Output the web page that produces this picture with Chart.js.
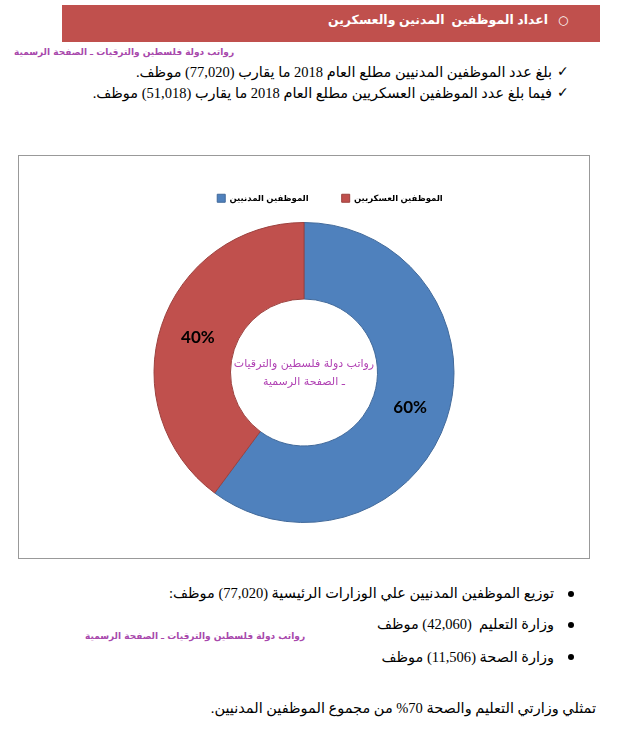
<!DOCTYPE html>
<html lang="ar">
<head>
<meta charset="utf-8">
<script src="https://cdn.jsdelivr.net/npm/chart.js@4.4.0/dist/chart.umd.min.js"></script>
<style>
  body { margin: 0; width: 628px; height: 729px; background: #fff; position: relative; overflow: hidden;
         font-family: "Liberation Serif", "DejaVu Sans", serif; color: #000; }
  .abs { position: absolute; white-space: nowrap; }
  .rtl { direction: rtl; }
  #header { left: 62px; top: 5px; width: 538px; height: 37px; background: #C0504D; }
  #headerText { right: 80px; top: 10px; font: bold 12.5px "Liberation Sans", "DejaVu Sans", sans-serif; color: #fff; line-height: 20px; }
  #headerDot { left: 558px; top: 10px; font: 12px "DejaVu Sans", sans-serif; color: #fff; line-height: 20px; }
  .line { font-size: 14.5px; line-height: 20px; }
  .mark { font-size: 14px; line-height: 20px; }
  .dot { width: 6px; height: 6px; border-radius: 50%; background: #000; }
  .wm { font: bold 9px "DejaVu Sans", sans-serif; color: #A848AC; line-height: 14px; }
  #box { left: 18px; top: 155px; width: 570px; height: 402px; border: 1px solid #999; }
</style>
</head>
<body>
<div id="header" class="abs"></div>
<div id="headerDot" class="abs">○</div>
<div id="headerText" class="abs rtl">اعداد الموظفين&nbsp; المدنين والعسكرين</div>

<div class="abs wm rtl" style="left:14px; top:45px;">رواتب دولة فلسطين والترقيات ـ الصفحة الرسمية</div>

<div class="abs mark" style="left:557px; top:62px;">✓</div>
<div class="abs line rtl" style="right:76px; top:62px;">بلغ عدد الموظفين المدنيين مطلع العام 2018 ما يقارب (77,020) موظف.</div>
<div class="abs mark" style="left:557px; top:83px;">✓</div>
<div class="abs line rtl" style="right:76px; top:83px;">فيما بلغ عدد الموظفين العسكريين مطلع العام 2018 ما يقارب (51,018) موظف.</div>

<div id="box" class="abs">
  <canvas id="employeesChart" width="570" height="402"></canvas>
</div>

<div class="abs dot" style="left:568px; top:591px;"></div>
<div class="abs line rtl" style="right:74px; top:583px;">توزيع الموظفين المدنيين علي الوزارات الرئيسية (77,020) موظف:</div>
<div class="abs dot" style="left:568px; top:622px;"></div>
<div class="abs line rtl" style="right:74px; top:614px;">وزارة التعليم&nbsp; (42,060) موظف</div>
<div class="abs wm rtl" style="left:85px; top:629px;">رواتب دولة فلسطين والترقيات ـ الصفحة الرسمية</div>
<div class="abs dot" style="left:568px; top:654px;"></div>
<div class="abs line rtl" style="right:74px; top:647px;">وزارة الصحة (11,506) موظف</div>
<div class="abs line rtl" style="right:32px; top:698px;">تمثلي وزارتي التعليم والصحة 70% من مجموع الموظفين المدنيين.</div>

<script>
// employees at the start of 2018
const categories = ['الموظفين المدنيين', 'الموظفين العسكريين'];
const employees = [77020, 51018];
const centerLines = ['رواتب دولة فلسطين والترقيات', 'ـ الصفحة الرسمية'];

const total = employees.reduce((a, b) => a + b, 0);

// taller legend block so the ring starts lower, legend nudged right like the original
const legendSpacer = {
    id: 'legendSpacer',
    beforeInit(chart) {
        const legend = chart.legend;
        const fit = legend.fit;
        legend.fit = function () {
            fit.call(this);
            this.height = 61;
        };
        const draw = legend.draw;
        legend.draw = function () {
            const ctx = this.ctx;
            ctx.save();
            ctx.translate(26, 0);
            draw.call(this);
            ctx.restore();
        };
    }
};

// percentages on the slices + watermark in the hole
const sliceLabels = {
    id: 'sliceLabels',
    afterDatasetsDraw(chart) {
        const ctx = chart.ctx;
        const meta = chart.getDatasetMeta(0);
        ctx.save();
        ctx.font = 'bold 17px Lato, "Open Sans", sans-serif';
        ctx.fillStyle = '#000';
        ctx.textAlign = 'center';
        ctx.textBaseline = 'middle';
        meta.data.forEach((arc, i) => {
            const p = arc.tooltipPosition();
            ctx.fillText(Math.round(employees[i] / total * 100) + '%', p.x, p.y);
        });
        const c = meta.data[0];
        ctx.font = '11px "DejaVu Sans", sans-serif';
        ctx.fillStyle = '#B143B4';
        ctx.direction = 'rtl';
        ctx.fillText(centerLines[0], c.x, c.y - 8);
        ctx.fillText(centerLines[1], c.x, c.y + 10);
        ctx.restore();
    }
};

new Chart(document.getElementById('employeesChart'), {
    type: 'doughnut',
    data: {
        labels: categories,
        datasets: [{
            data: employees,
            backgroundColor: ['#4F81BD', '#C0504D'],
            borderColor: ['#41699A', '#9C413E'],
            borderWidth: 1
        }]
    },
    options: {
        responsive: false,
        animation: false,
        cutout: '49%',
        layout: {
            padding: { top: 5, bottom: 35 }
        },
        plugins: {
            legend: {
                position: 'top',
                labels: {
                    boxWidth: 8,
                    boxHeight: 8,
                    padding: 33,
                    color: '#000',
                    font: { family: '"Liberation Sans", "DejaVu Sans", sans-serif', size: 8.5, weight: 'bold' }
                }
            },
            tooltip: { enabled: false }
        }
    },
    plugins: [legendSpacer, sliceLabels]
});
</script>
</body>
</html>
